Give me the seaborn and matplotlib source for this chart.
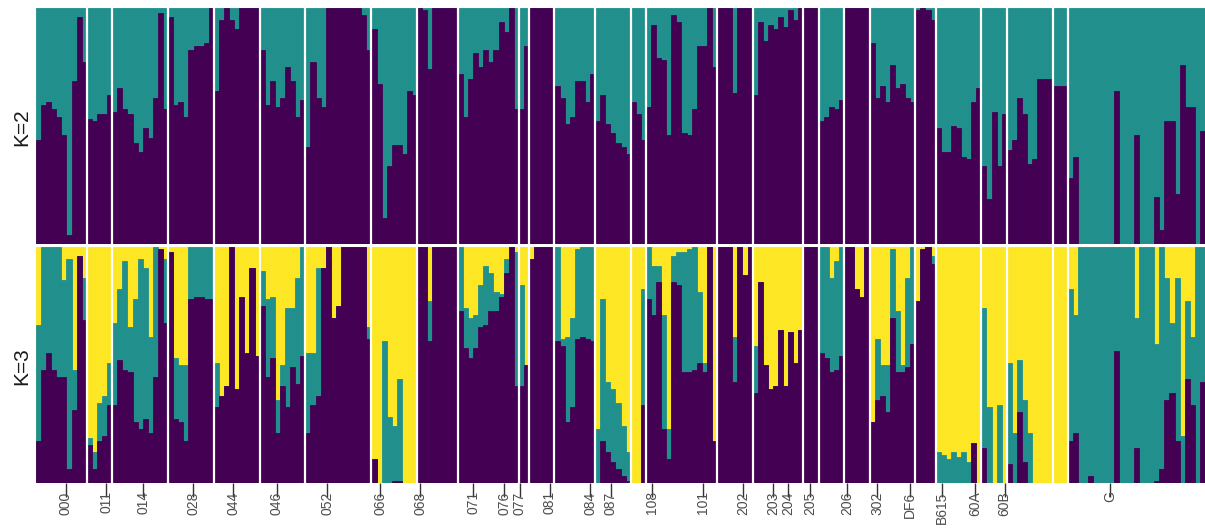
import numpy as np
import pandas as pd
import matplotlib
matplotlib.use("Agg")
import matplotlib.pyplot as plt
import seaborn as sns

# ---------------- data ----------------
pops = ["000", "011", "014", "028", "044", "046", "052", "066", "068", "071",
        "076", "077", "081", "084", "087", "108", "101", "202", "203", "204",
        "205", "206", "302", "DF6", "B615", "60A", "60B", "G"]

counts = [10, 5, 11, 9, 9, 9, 13, 9, 8, 12, 2, 5, 8, 7, 3, 14, 7, 10, 3, 5,
          5, 9, 4, 9, 5, 9, 3, 27]

# tick label positions (individual index units) as placed in the original
tick_pos = [5.4, 13.3, 20.6, 30.4, 38.3, 46.9, 56.8, 67.2, 75.1, 85.5,
            91.6, 94.7, 100.6, 108.5, 112.6, 120.7, 130.7, 138.6, 144.5, 147.5,
            151.8, 159.1, 165.0, 171.5, 177.8, 184.2, 190.1, 210.8]

# K=2 : ancestry proportion of cluster 1 (purple); remainder is cluster 2 (teal)
k2_purple = [
    0.44, 0.59, 0.60, 0.57, 0.54, 0.46, 0.04, 0.69, 0.96, 0.77,         # 000
    0.53, 0.52, 0.55, 0.55, 0.63,                                       # 011
    0.56, 0.66, 0.57, 0.55, 0.43, 0.39, 0.49, 0.45, 0.62, 0.98, 0.57,   # 014
    0.96, 0.59, 0.60, 0.54, 0.82, 0.84, 0.84, 0.85, 1.00,               # 028
    0.65, 0.95, 1.00, 0.95, 0.91, 1.00, 1.00, 1.00, 1.00,               # 044
    0.82, 0.59, 0.69, 0.58, 0.62, 0.75, 0.69, 0.54, 0.61,               # 046
    0.41, 0.77, 0.62, 0.58, 1.00, 1.00, 1.00, 1.00, 1.00, 1.00, 1.00, 0.97, 0.82,  # 052
    0.91, 0.68, 0.11, 0.33, 0.42, 0.42, 0.38, 0.65, 0.63,               # 066
    1.00, 0.99, 0.74, 1.00, 1.00, 1.00, 1.00, 1.00,                     # 068
    0.72, 0.54, 0.70, 0.81, 0.75, 0.82, 0.77, 0.82, 0.94, 0.90, 1.00, 0.57,  # 071
    0.57, 0.84,                                                         # 076
    1.00, 1.00, 1.00, 1.00, 1.00,                                       # 077
    0.67, 0.62, 0.51, 0.54, 0.69, 0.69, 0.60, 0.72,                     # 081
    0.52, 0.63, 0.51, 0.47, 0.43, 0.41, 0.38,                           # 084
    0.60, 0.55, 0.44,                                                   # 087
    0.58, 0.93, 0.79, 0.78, 0.46, 0.97, 0.94, 0.47, 0.46, 0.57, 0.84, 0.84, 1.00, 0.75,  # 108
    1.00, 1.00, 1.00, 0.64, 1.00, 1.00, 1.00,                           # 101
    0.63, 0.94, 0.86, 0.93, 0.91, 0.96, 0.92, 0.99, 0.95, 1.00,         # 202
    1.00, 1.00, 1.00,                                                   # 203
    0.52, 0.54, 0.58, 0.57, 0.61,                                       # 204
    1.00, 1.00, 1.00, 1.00, 1.00,                                       # 205
    0.85, 0.62, 0.67, 0.60, 0.76, 0.66, 0.68, 0.62, 0.60,               # 206
    0.99, 1.00, 0.99, 0.95,                                             # 302
    0.49, 0.39, 0.39, 0.50, 0.49, 0.37, 0.36, 0.60, 0.66,               # DF6
    0.33, 0.19, 0.56, 0.33, 0.55,                                       # B615
    0.40, 0.44, 0.62, 0.55, 0.34, 0.36, 0.70, 0.70, 0.70,               # 60A
    0.67, 0.67, 0.67,                                                   # 60B
    0.28, 0.37, 0.00, 0.00, 0.00, 0.00, 0.00, 0.00, 0.00, 0.65, 0.00, 0.00, 0.00,
    0.46, 0.00, 0.00, 0.00, 0.20, 0.06, 0.52, 0.52, 0.21, 0.76, 0.58, 0.58, 0.00, 0.48,  # G
]

# K=3 : cluster 1 (purple) proportion
k3_purple = [
    0.18, 0.48, 0.55, 0.48, 0.45, 0.45, 0.06, 0.31, 0.96, 0.69,         # 000
    0.16, 0.06, 0.18, 0.20, 0.33,                                       # 011
    0.33, 0.52, 0.48, 0.47, 0.26, 0.23, 0.27, 0.21, 0.45, 0.99, 0.68,   # 014
    0.98, 0.27, 0.26, 0.18, 0.78, 0.79, 0.79, 0.78, 0.78,               # 028
    0.32, 0.37, 0.41, 1.00, 0.40, 0.79, 0.55, 0.91, 0.54,               # 044
    0.75, 0.45, 0.53, 0.21, 0.41, 0.32, 0.49, 0.42, 0.54,               # 046
    0.21, 0.33, 0.37, 0.91, 1.00, 0.70, 0.75, 1.00, 1.00, 1.00, 1.00, 1.00, 0.61,  # 052
    0.10, 0.00, 0.00, 0.00, 0.01, 0.01, 0.00, 0.00, 0.00,               # 066
    1.00, 1.00, 0.60, 1.00, 1.00, 1.00, 1.00, 1.00,                     # 068
    0.73, 0.57, 0.53, 0.57, 0.66, 0.67, 0.73, 0.73, 0.79, 0.89, 1.00, 0.41,  # 071
    0.41, 0.50,                                                         # 076
    0.95, 1.00, 1.00, 1.00, 1.00,                                       # 077
    0.60, 0.58, 0.26, 0.32, 0.61, 0.62, 0.61, 0.60,                     # 081
    0.00, 0.18, 0.13, 0.09, 0.06, 0.03, 0.01,                           # 084
    0.00, 0.00, 0.33,                                                   # 087
    0.78, 0.71, 0.85, 0.23, 0.10, 0.85, 0.84, 0.47, 0.47, 0.48, 0.51, 0.47, 1.00, 0.18,  # 108
    1.00, 1.00, 1.00, 0.43, 1.00, 0.88, 1.00,                           # 101
    0.38, 0.85, 0.50, 0.40, 0.41, 0.65, 0.41, 0.64, 0.51, 0.65,         # 202
    1.00, 1.00, 1.00,                                                   # 203
    0.55, 0.53, 0.47, 0.48, 0.54,                                       # 204
    1.00, 1.00, 0.82, 0.79, 1.00,                                       # 205
    0.26, 0.35, 0.37, 0.30, 0.70, 0.47, 0.47, 0.49, 0.59,               # 206
    0.77, 0.99, 1.00, 0.93,                                             # 302
    0.00, 0.00, 0.00, 0.00, 0.00, 0.00, 0.00, 0.17, 0.00,               # DF6
    0.15, 0.00, 0.00, 0.00, 0.00,                                       # B615
    0.08, 0.00, 0.30, 0.09, 0.00, 0.00, 0.00, 0.00, 0.00,               # 60A
    0.00, 0.00, 0.00,                                                   # 60B
    0.18, 0.21, 0.00, 0.00, 0.03, 0.00, 0.00, 0.00, 0.00, 0.56, 0.00, 0.00, 0.00,
    0.15, 0.00, 0.00, 0.00, 0.01, 0.06, 0.35, 0.38, 0.18, 0.00, 0.44, 0.33, 0.00, 0.43,  # G
]

# K=3 : cluster 1 + cluster 2 (purple + teal); remainder is cluster 3 (yellow)
k3_upper = [
    0.67, 1.00, 1.00, 1.00, 1.00, 0.86, 0.95, 0.48, 0.96, 0.87,         # 000
    0.19, 0.13, 0.34, 0.37, 0.51,                                       # 011
    0.68, 0.82, 0.94, 0.66, 0.78, 0.95, 0.91, 0.62, 1.00, 0.99, 0.95,   # 014
    0.98, 0.53, 0.50, 0.50, 1.00, 1.00, 1.00, 1.00, 1.00,               # 028
    0.51, 0.37, 0.41, 1.00, 0.40, 0.79, 0.55, 0.91, 0.54,               # 044
    0.90, 0.78, 0.79, 0.35, 0.50, 0.74, 0.74, 0.87, 1.00,               # 046
    0.55, 0.55, 0.91, 0.91, 1.00, 0.70, 0.75, 1.00, 1.00, 1.00, 1.00, 1.00, 0.66,  # 052
    0.10, 0.00, 0.60, 0.28, 0.24, 0.44, 0.00, 0.00, 0.00,               # 066
    1.00, 1.00, 0.77, 1.00, 1.00, 1.00, 1.00, 1.00,                     # 068
    1.00, 0.74, 0.70, 0.71, 0.84, 0.92, 0.89, 0.81, 0.80, 0.95, 1.00, 0.98,  # 071
    0.84, 0.50,                                                         # 076
    0.95, 1.00, 1.00, 1.00, 1.00,                                       # 077
    1.00, 0.61, 0.62, 0.70, 0.99, 1.00, 1.00, 1.00,                     # 081
    0.23, 0.78, 0.43, 0.40, 0.34, 0.24, 0.13,                           # 084
    0.00, 0.00, 0.82,                                                   # 087
    1.00, 0.92, 0.92, 0.71, 0.23, 0.96, 0.98, 0.98, 0.99, 1.00, 0.81, 0.51, 1.00, 0.18,  # 108
    1.00, 1.00, 1.00, 0.62, 1.00, 0.88, 1.00,                           # 101
    0.58, 0.85, 0.50, 0.40, 0.41, 0.65, 0.41, 0.64, 0.51, 0.65,         # 202
    1.00, 1.00, 1.00,                                                   # 203
    1.00, 1.00, 0.87, 0.94, 1.00,                                       # 204
    1.00, 1.00, 0.82, 0.79, 1.00,                                       # 205
    0.26, 0.61, 0.50, 0.50, 0.99, 0.73, 0.50, 0.87, 1.00,               # 206
    0.77, 0.99, 1.00, 0.96,                                             # 302
    0.13, 0.12, 0.10, 0.13, 0.11, 0.13, 0.09, 0.17, 0.00,               # DF6
    0.74, 0.32, 0.00, 0.33, 0.00,                                       # B615
    0.51, 0.21, 0.52, 0.35, 0.21, 0.00, 0.00, 0.00, 0.00,               # 60A
    0.00, 0.00, 0.00,                                                   # 60B
    0.82, 0.71, 1.00, 1.00, 1.00, 1.00, 1.00, 1.00, 1.00, 1.00, 1.00, 1.00, 1.00,
    0.70, 1.00, 1.00, 1.00, 0.59, 1.00, 0.87, 0.68, 0.87, 0.20, 0.77, 0.62, 1.00, 1.00,  # G
]

# ---------------- style ----------------
PURPLE = "#440154"
TEAL = "#21908C"
YELLOW = "#FDE725"

sns.set_theme(style="white")
plt.rcParams["font.family"] = ["Liberation Sans", "DejaVu Sans"]

n = sum(counts)
df = pd.DataFrame({
    "ind": np.arange(n),
    "one": np.ones(n),
    "k2_purple": k2_purple,
    "k3_purple": k3_purple,
    "k3_upper": k3_upper,
})

W, H = 1205, 529
fig = plt.figure(figsize=(W / 100, H / 100), dpi=100)
ax1 = fig.add_axes([36 / W, 1 - 244 / H, 1169 / W, 236 / H])
ax2 = fig.add_axes([36 / W, 1 - 483 / H, 1169 / W, 236 / H])


def layer(ax, col, color):
    sub = df[df[col] > 0]
    sns.barplot(data=sub, x="ind", y=col, color=color, width=1.0,
                native_scale=True, saturation=1, errorbar=None,
                linewidth=0.6, edgecolor=color, ax=ax)


layer(ax1, "one", TEAL)
layer(ax1, "k2_purple", PURPLE)

layer(ax2, "one", YELLOW)
layer(ax2, "k3_upper", TEAL)
layer(ax2, "k3_purple", PURPLE)

bounds = np.cumsum(counts)[:-1] - 0.5
for ax in (ax1, ax2):
    for b in bounds:
        ax.axvline(b, color="white", lw=1.6)
    ax.set_xlim(-0.5, n - 0.5)
    ax.set_ylim(0, 1)
    ax.set_xlabel("")
    ax.set_ylabel("")
    ax.set_yticks([])
    for s in ax.spines.values():
        s.set_visible(False)

ax1.set_xticks([])
ax2.set_xticks(tick_pos)
ax2.set_xticklabels(pops, rotation=90, fontsize=10, color="#4D4D4D")
ax2.tick_params(axis="x", which="both", bottom=True, length=10, width=1.0,
                color="#333333", pad=-4, direction="out")

fig.text(22 / W, 1 - 127 / H, "K=2", rotation=90, ha="center", va="center",
         fontsize=15, color="#1A1A1A")
fig.text(22 / W, 1 - 366 / H, "K=3", rotation=90, ha="center", va="center",
         fontsize=15, color="#1A1A1A")

fig.savefig("out.png", dpi=100, facecolor="white")
